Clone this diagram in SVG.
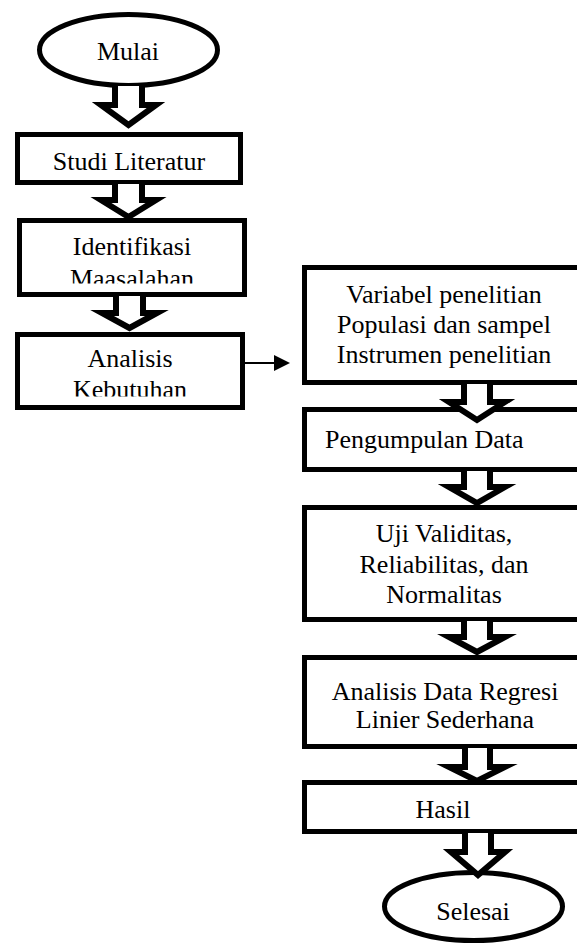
<svg xmlns="http://www.w3.org/2000/svg" width="577" height="945" viewBox="0 0 577 945">
<style>
.box{fill:#fff;stroke:#000;stroke-width:5}
.t{font-family:"Liberation Serif","Times New Roman",serif;font-size:26px;fill:#000;text-anchor:middle}
.ts{font-family:"Liberation Serif","Times New Roman",serif;font-size:26px;fill:#000}
.blk{fill:#fff;stroke:#000;stroke-width:6;stroke-miterlimit:10}
.ln{stroke:#000;stroke-width:2;fill:none}
</style>
<defs>
<marker id="ah" markerWidth="8" markerHeight="8" refX="1" refY="4" orient="auto" markerUnits="strokeWidth"><path d="M0,0 L8,4 L0,8 z" fill="#000"/></marker>
<clipPath id="c1"><rect x="20" y="221" width="225" height="62.5"/></clipPath>
<clipPath id="c2"><rect x="18" y="335" width="225" height="61.5"/></clipPath>
</defs>
<rect width="577" height="945" fill="#fff"/>
<g id="n1"><ellipse class="box" cx="128.5" cy="50" rx="89" ry="35.5"/><text class="t" x="128" y="60">Mulai</text></g>
<g id="n2"><rect class="box" x="17.5" y="134.5" width="223" height="48"/><text class="t" x="129" y="170">Studi Literatur</text></g>
<g id="n3"><rect class="box" x="19.5" y="220.5" width="225" height="74"/><g clip-path="url(#c1)"><text class="t" x="132" y="255">Identifikasi</text><text class="t" x="132" y="287">Maasalahan</text></g></g>
<g id="n4"><rect class="box" x="17.5" y="334.5" width="225" height="73"/><g clip-path="url(#c2)"><text class="t" x="130" y="367">Analisis</text><text class="t" x="130" y="398">Kebutuhan</text></g></g>
<g id="n5"><rect class="box" x="304.5" y="267.5" width="360" height="115"/><text class="t" x="444" y="303">Variabel penelitian</text><text class="t" x="444" y="333">Populasi dan sampel</text><text class="t" x="444" y="363">Instrumen penelitian</text></g>
<g id="n6"><rect class="box" x="304.5" y="409.5" width="360" height="60"/><text class="ts" x="325" y="448">Pengumpulan Data</text></g>
<g id="n7"><rect class="box" x="304.5" y="507.5" width="360" height="112"/><text class="t" x="444" y="542">Uji Validitas,</text><text class="t" x="444" y="573">Reliabilitas, dan</text><text class="t" x="444" y="603">Normalitas</text></g>
<g id="n8"><rect class="box" x="304.5" y="657.5" width="360" height="89"/><text class="t" x="445" y="700">Analisis Data Regresi</text><text class="t" x="445" y="728">Linier Sederhana</text></g>
<g id="n9"><rect class="box" x="304.5" y="782.5" width="360" height="49"/><text class="t" x="443" y="818">Hasil</text></g>
<g id="n10"><ellipse class="box" cx="473.5" cy="906.5" rx="89" ry="34"/><text class="t" x="473" y="920">Selesai</text></g>
<g id="connectors">
<path class="blk" d="M115,86 V105 H101 L128.5,125 L156,105 H142 V86"/>
<path class="blk" d="M115,184 V200 H101 L128.5,217 L156,200 H142 V184"/>
<path class="blk" d="M116,296 V313 H102 L129.5,328 L157,313 H143 V296"/>
<path class="ln" d="M245,363 H276" marker-end="url(#ah)"/>
<path class="blk" d="M464,384 V402 H449 L477,420 L505,402 H490 V384"/>
<path class="blk" d="M464,471 V487 H449 L477,503 L505,487 H490 V471"/>
<path class="blk" d="M464,621 V637 H449 L477,652 L505,637 H490 V621"/>
<path class="blk" d="M465,748 V767 H449 L477,781 L505,767 H490 V748"/>
<path class="blk" d="M465,833 V852 H451 L478,875 L505,852 H491 V833"/>
</g>
</svg>
